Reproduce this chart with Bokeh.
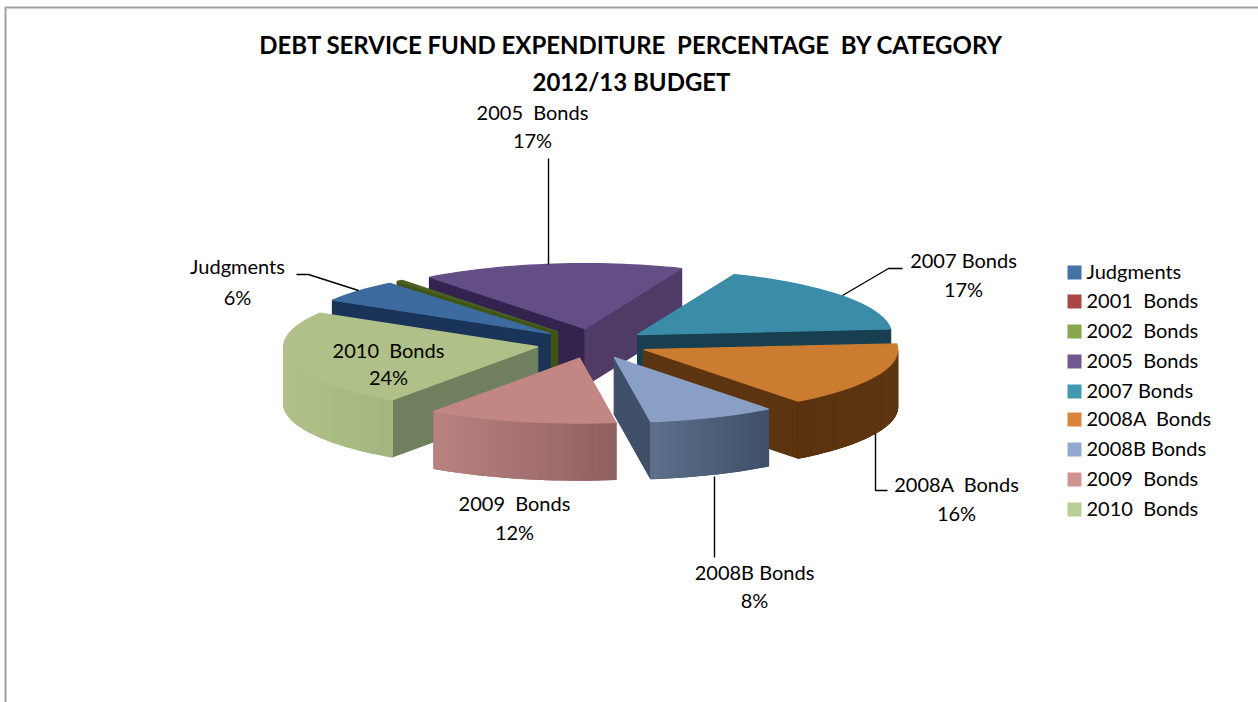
import numpy as np
from bokeh.plotting import figure
from bokeh.models import Range1d, ColumnDataSource
from bokeh.core.properties import value
from bokeh.embed import file_html
from bokeh.resources import INLINE

# ---- data ----
categories = ["Judgments", "2001\u00a0 Bonds", "2002\u00a0 Bonds", "2005\u00a0 Bonds", "2007 Bonds",
              "2008A\u00a0 Bonds", "2008B Bonds", "2009\u00a0 Bonds", "2010\u00a0 Bonds"]
percentages = [5.5, 0.0, 0.4, 16.7, 17.4, 16.0, 8.1, 12.0, 23.9]
title_lines = ["DEBT SERVICE FUND EXPENDITURE\u00a0 PERCENTAGE\u00a0 BY CATEGORY", "2012/13 BUDGET"]

# ---- styles ----
legend_colors = ["#4572A7", "#AA4643", "#89A54E", "#71588F", "#4198AF", "#DB843D", "#93A9CF", "#D19392", "#B9CD96"]
top_colors = ["#3D6B9F", "#8E3A38", "#4A5F25", "#644E86", "#3A8CA8", "#CC7C30", "#8A9FC6", "#C28683", "#AFC088"]
start_face = ["#1A3358", "#5A2220", "#3F5312", "#33234F", "#173F50", "#5C3510", "#3F5068", "#9A6A68", "#707F5D"]
end_face = ["#1A3358", "#5A2220", "#3F5312", "#503A66", "#173F50", "#5C3510", "#3F5068", "#9A6A68", "#707F5D"]
wall_left = ["#1A3358", "#5A2220", "#3F5312", "#503A66", "#173F50", "#5A3210", "#5E6F8A", "#B8827F", "#B0C28A"]
wall_right = ["#1A3358", "#5A2220", "#3F5312", "#503A66", "#173F50", "#5E3611", "#3E4F68", "#8F6160", "#A4B67F"]
paint_order = [3, 2, 1, 0, 4, 8, 5, 6, 7]

# ---- layout (screen pixels) ----
W, H = 1258, 702
CX, CY, RX, RY = 592, 343, 254, 65
EX, EY = 56, 15
DEPTH = 57
START = 211.0
FONT = "Lato"
label_pos = {0: (237, 265, 296), 3: (532, 111, 139), 4: (963, 259, 288), 5: (956, 483, 512),
             6: (754, 571, 599), 7: (514, 502, 531), 8: (388, 349, 376)}
leaders = [[(296, 274), (308, 274), (358, 290)], [(548, 158), (548, 264)],
           [(842, 295), (888, 268), (902, 268)], [(875, 433), (875, 490), (887, 490)],
           [(714, 476), (714, 557)]]
legend_y = [272, 301, 331, 361, 391, 419, 449, 479, 509]


def hex2rgb(c):
    return np.array([int(c[i:i + 2], 16) for i in (1, 3, 5)], dtype=float)


def mix(a, b, f):
    r = hex2rgb(a) * (1 - f) + hex2rgb(b) * f
    return "#%02x%02x%02x" % tuple(int(round(v)) for v in r)


total = sum(percentages)
xs, ys, cs = [], [], []


def add(px, py, color):
    xs.append(list(px))
    ys.append(list(py))
    cs.append(color)


bounds = {}
a = START
for i, v in enumerate(percentages):
    sweep = v / total * 360
    bounds[i] = (a, a + sweep)
    a += sweep

for i in paint_order:
    t0, t1 = bounds[i]
    if t1 <= t0:
        continue
    mid = np.radians((t0 + t1) / 2)
    ax = CX + EX * np.cos(mid)
    ay = CY + EY * np.sin(mid)
    ts = np.radians(np.linspace(t0, t1, max(3, int((t1 - t0) / 2) + 2)))
    rx = ax + RX * np.cos(ts)
    ry = ay + RY * np.sin(ts)
    # cut faces that look toward the viewer
    if np.cos(np.radians(t0)) < 0:
        add([ax, rx[0], rx[0], ax], [ay, ry[0], ry[0] + DEPTH, ay + DEPTH], start_face[i])
    if np.cos(np.radians(t1)) > 0:
        add([ax, rx[-1], rx[-1], ax], [ay, ry[-1], ry[-1] + DEPTH, ay + DEPTH], end_face[i])
    # outer wall: only the front half, shaded from screen left to screen right
    front = [t for t in np.degrees(ts) if np.sin(np.radians(t)) >= -1e-9]
    if len(front) >= 2:
        fx = [ax + RX * np.cos(np.radians(t)) for t in front]
        fy = [ay + RY * np.sin(np.radians(t)) for t in front]
        xmin, xmax = min(fx), max(fx)
        add(fx + fx[::-1], fy + [y + DEPTH for y in fy[::-1]], mix(wall_left[i], wall_right[i], 0.5))
        for k in range(len(front) - 1):
            f = ((fx[k] + fx[k + 1]) / 2 - xmin) / max(xmax - xmin, 1)
            add([fx[k], fx[k + 1], fx[k + 1], fx[k]],
                [fy[k], fy[k + 1], fy[k + 1] + DEPTH, fy[k] + DEPTH],
                mix(wall_left[i], wall_right[i], f))
    # top
    add([ax] + list(rx), [ay] + list(ry), top_colors[i])

p = figure(width=W, height=H, output_backend="svg", toolbar_location=None,
           x_range=Range1d(0, W), y_range=Range1d(H, 0),
           x_axis_location=None, y_axis_location=None, min_border=0,
           outline_line_color=None, background_fill_color="white", border_fill_color="white")
p.grid.visible = False

# chart frame
p.multi_line(xs=[[5, 5, W], ], ys=[[H, 7, 7], ], line_color="#A0A0A0", line_width=2)

p.patches("x", "y", source=ColumnDataSource(dict(x=xs, y=ys, c=cs)), fill_color="c", line_color="c", line_width=1.2)

p.multi_line(xs=[[q[0] for q in l] for l in leaders], ys=[[q[1] for q in l] for l in leaders],
             line_color="black", line_width=1.4)

# title
p.text(x=[631, 631], y=[44, 81], text=title_lines, text_font=value(FONT), text_font_style="bold",
       text_font_size="24px", text_align="center", text_baseline="middle", text_color="black")

# data labels
lx, ly, lt = [], [], []
for i, (cx_, y1, y2) in label_pos.items():
    lx += [cx_, cx_]
    ly += [y1, y2]
    lt += [categories[i], f"{round(percentages[i])}%"]
p.text(x=lx, y=ly, text=lt, text_font=value(FONT), text_font_size="20px",
       text_align="center", text_baseline="middle", text_color="black")

# legend
p.rect(x=[1074] * len(categories), y=legend_y, width=14, height=14, fill_color=legend_colors, line_color=None)
p.text(x=[1086] * len(categories), y=[y - 2 for y in legend_y], text=categories, text_font=value(FONT),
       text_font_size="20px", text_align="left", text_baseline="middle", text_color="black")

open("out.html", "w").write(file_html(p, INLINE))
